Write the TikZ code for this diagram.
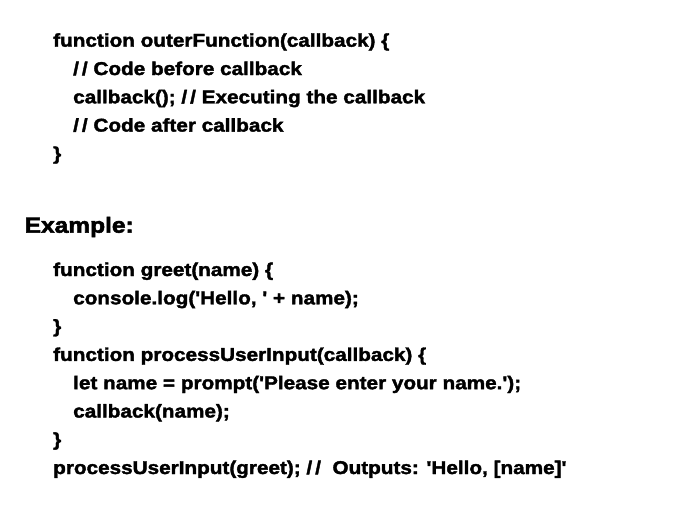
\documentclass[tikz,border=0pt]{standalone}
\font\codefont="Liberation Sans/B:extend=1.12;embolden=2" at 18.5pt
\font\exfont="Liberation Sans/B:extend=1.13;embolden=2.5" at 21.7pt
\newcommand{\slsl}{/\kern3pt/}
\begin{document}
\begin{tikzpicture}[x=1pt,y=-1pt,
  code/.style={anchor=base west, inner sep=0pt, font=\codefont},
  heading/.style={anchor=base west, inner sep=0pt, font=\exfont}]
\useasboundingbox (0,0) rectangle (685,506);
% first block
\node[code] (a1) at (53,46.7) {function outerFunction(callback) \{};
\node[code] (a2) at (73,75.0) {\slsl{} Code before callback};
\node[code] (a3) at (73,103.3) {callback(); \slsl{}  Executing the callback};
\node[code] (a4) at (73,131.6) {\slsl{} Code after callback};
\node[code] (a5) at (53,159.9) {\}};
% heading
\node[heading] (ex) at (24.5,232.7) {Example:};
% second block
\node[code] (b1) at (53,276.0) {function greet(name) \{};
\node[code] (b2) at (73,304.3) {console.log('Hello, ' + name);};
\node[code] (b3) at (53,332.6) {\}};
\node[code] (b4) at (53,360.9) {function processUserInput(callback) \{};
\node[code] (b5) at (73,389.2) {let name = prompt('Please enter your name.');};
\node[code] (b6) at (73,417.5) {callback(name);};
\node[code] (b7) at (53,445.8) {\}};
\node[code] (b8) at (53,474.0) {processUserInput(greet); \slsl{}\ \ Outputs: 'Hello, [name]'};
\end{tikzpicture}
\end{document}
